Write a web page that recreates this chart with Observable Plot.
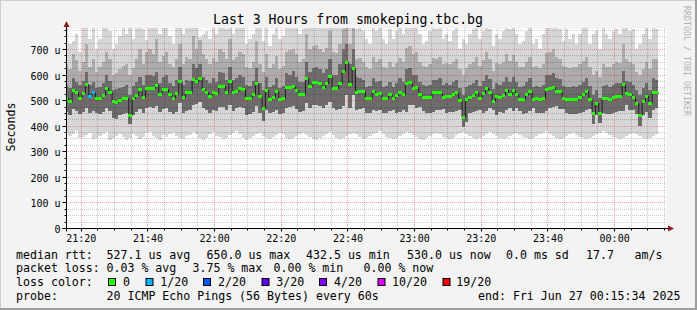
<!DOCTYPE html>
<html><head><meta charset="utf-8">
<script src="https://cdn.jsdelivr.net/npm/d3@7"></script>
<script src="https://cdn.jsdelivr.net/npm/@observablehq/plot@0.6"></script>
<style>
html,body{margin:0;padding:0;background:#f3f3f3;}
#chart{width:697px;height:310px;overflow:hidden;}
svg{display:block;}
</style></head><body><div id="chart"></div>
<script>
// ---- data (one value per minute, microseconds) ----
const medianRtt = [
510,496,539,531,508,527,562,516,531,508,
508,520,547,531,496,492,500,508,508,441,
508,520,543,512,547,547,547,559,523,543,
543,523,508,527,574,512,531,531,582,574,
586,543,531,516,531,527,555,555,531,574,
531,535,547,543,508,508,523,566,516,469,
539,504,512,535,504,508,551,551,555,539,
523,523,586,555,570,570,566,551,566,594,
547,547,566,613,650,562,627,531,535,535,
508,508,535,523,527,508,508,523,508,520,
531,523,566,570,547,551,523,512,512,512,
531,531,531,512,516,516,523,531,500,432.5,
504,512,520,531,508,527,547,531,496,516,
512,520,539,523,539,523,504,504,523,535,
504,508,504,508,543,547,551,535,535,508,
504,504,504,504,512,523,535,504,449,488,
449,508,508,504,512,516,516,562,527,523,
512,488,441,496,516,488,531,530];
const lossCount = medianRtt.map((_, i) => (i === 7 || i === 8) ? 1 : 0);
const smokeMin = [
372,358,366,381,352,356,364,371,349,353,
359,367,374,346,351,361,369,356,343,351,
366,361,349,354,371,377,359,352,346,363,
356,369,373,361,351,347,359,363,376,369,
352,346,353,367,374,361,356,349,351,363,
371,379,367,353,346,351,359,366,373,361,
351,347,356,363,371,366,353,349,351,361,
367,373,363,356,349,346,353,361,369,376,
363,351,347,353,361,369,373,366,356,349,
351,359,367,373,379,366,356,351,347,353,
361,369,376,371,363,356,349,346,353,361,
369,373,366,357,351,347,353,363,371,376,
367,359,351,347,353,361,369,375,367,359,
351,347,353,361,369,373,365,357,351,347,
353,361,367,373,379,369,361,353,347,351,
359,367,373,365,357,351,347,353,361,369,
373,381,373,365,357,351,347,353,361,369,
373,367,359,351,347,353,361,366];
const smokeLowQ = [
452,440,465,458,446,455,470,448,458,450,
446,452,468,458,432,428,440,445,450,405,
440,452,466,448,470,472,468,478,455,465,
468,455,446,452,490,450,458,462,480,486,
492,470,460,450,462,458,472,475,462,480,
458,468,472,470,442,446,455,478,450,420,
462,448,452,462,446,448,470,472,476,466,
455,458,488,470,480,482,476,468,480,492,
470,462,465,478,520,470,520,462,466,468,
448,450,462,456,460,448,450,456,462,448,
452,460,455,480,482,468,472,456,450,448,
452,462,462,464,450,454,454,458,462,395,
415,448,452,458,460,448,458,470,462,440,
455,450,460,470,456,470,456,446,448,456,
470,448,450,448,456,470,472,478,466,466,
448,446,446,446,450,452,460,466,405,440,
410,450,446,446,448,452,456,456,480,462,
460,446,400,440,452,430,462,470];
const smokeDarkTop = [
560,548,585,570,560,575,610,560,572,548,
552,566,600,575,540,545,548,552,560,520,
556,572,590,560,600,598,596,610,568,590,
598,566,556,580,630,560,580,575,640,625,
640,590,578,565,585,572,610,605,580,630,
578,585,598,590,560,556,574,625,565,540,
590,552,560,585,548,556,605,600,612,592,
572,570,650,610,625,628,620,605,622,660,
598,600,640,700,720,640,700,590,585,580,
552,556,585,570,575,552,556,570,552,568,
585,570,620,625,598,600,572,560,556,560,
580,578,585,560,565,560,572,580,548,520,
552,560,565,580,556,575,600,582,545,565,
558,570,590,572,590,570,552,555,572,588,
552,556,552,560,598,600,605,585,582,556,
552,550,556,552,560,572,585,556,520,540,
510,556,560,552,560,565,565,615,575,572,
560,540,520,548,565,540,585,580];
const smokeHighQ = [
640,620,680,655,612,650,720,630,660,610,
628,650,690,660,600,608,620,635,640,600,
625,660,700,640,690,700,680,740,650,672,
690,640,628,660,720,640,670,660,750,700,
735,680,662,640,665,650,700,690,660,740,
655,668,690,680,630,625,650,730,640,610,
680,625,640,672,620,632,690,695,700,680,
650,660,760,700,712,715,700,690,705,770,
690,685,720,780,790,720,790,660,665,650,
630,620,670,650,660,630,625,650,630,645,
665,650,705,712,680,690,650,635,630,640,
665,660,670,640,645,640,650,662,620,600,
625,640,650,668,632,655,690,660,615,645,
640,650,680,652,675,650,630,628,650,670,
628,632,625,640,685,690,700,668,660,632,
630,625,630,628,640,652,670,630,600,612,
590,640,630,628,640,648,645,720,660,650,
642,610,600,620,650,620,662,660];
const smokeMax = [
790,720,730,760,690,790,800,740,800,700,
740,800,800,770,700,720,750,800,760,800,
740,800,800,780,735,800,800,800,760,790,
800,750,720,800,800,760,800,790,800,800,
745,760,770,740,790,760,800,800,780,800,
760,790,800,800,720,740,760,800,790,730,
800,710,760,800,740,750,800,800,800,790,
760,780,800,800,800,800,800,790,800,800,
800,800,800,800,800,800,800,780,790,770,
740,720,800,770,790,740,720,780,740,770,
800,760,800,800,790,800,760,720,730,770,
800,780,800,740,760,730,770,800,700,740,
720,760,780,800,740,770,800,780,710,760,
740,770,800,780,800,760,720,730,770,800,
720,740,700,760,800,800,800,790,780,730,
780,740,760,720,760,790,800,720,760,770,
700,800,760,740,770,780,760,800,790,770,
780,700,720,760,800,740,790,780];
const yTickValues = [0,100,200,300,400,500,600,700];
const yTickLabels = ["0","100 u","200 u","300 u","400 u","500 u","600 u","700 u"];
const xTickLabels = ["21:20","21:40","22:00","22:20","22:40","23:00","23:20","23:40","00:00"];
const lossNames  = ["0","1/20","2/20","3/20","4/20","10/20","19/20"];
const lossColors = ["#26ff00","#00b8ff","#0059ff","#5e00ff","#7e00ff","#dd00ff","#ff0000"];
const statLine1 = ["median rtt:","527.1 us avg","650.0 us max","432.5 us min","530.0 us now","0.0 ms sd","17.7","am/s"];
const statLine2 = ["packet loss:","0.03 % avg","3.75 % max","0.00 % min","0.00 % now"];
const probeLine = ["probe:","20 ICMP Echo Pings (56 Bytes) every 60s","end: Fri Jun 27 00:15:34 2025"];
const titleText = "Last 3 Hours from smokeping.tbc.bg";

// ---- build ----
const tStart = new Date(Date.UTC(2025,5,26,21,15,34));
const tEnd   = new Date(Date.UTC(2025,5,27,0,15,34));
const firstEnd = Date.UTC(2025,5,26,21,16,15);
const rows = medianRtt.map((m,i)=>({
  t0: new Date(firstEnd + (i-1)*60000), t1: new Date(firstEnd + i*60000),
  med: m, lo: smokeMin[i], q1: smokeLowQ[i], dk: smokeDarkTop[i], q3: smokeHighQ[i], hi: smokeMax[i],
  col: lossColors[lossCount[i]]
}));
const stepPts = rows.map(r=>({t:r.t0, v:r.med})).concat([{t: rows[rows.length-1].t1, v: rows[rows.length-1].med}]);
const xTickTimes = xTickLabels.map(s=>{const [h,m]=s.split(":").map(Number); return new Date(Date.UTC(2025,5,h<12?27:26,h,m));});
const minorX = d3.utcMinute.every(5).range(tStart, tEnd).filter(d=>d.getUTCMinutes()%20!==0);
const minorY = d3.range(25, 782, 25).filter(v=>v%100!==0);

const plot = Plot.plot({
  width: 697, height: 310,
  marginTop: 28, marginBottom: 82, marginLeft: 66, marginRight: 31,
  style: {background: "#f3f3f3", fontFamily: "DejaVu Sans Mono", overflow: "visible"},
  x: {type: "utc", domain: [tStart, tEnd], axis: null},
  y: {domain: [0, 782], axis: null},
  color: {type: "identity"},
  marks: [
    Plot.frame({fill: "white", stroke: "none"}),
    Plot.rect(rows, {x1:"t0", x2:"t1", y1:"lo", y2:"hi", fill:"#d6d6d6", clip:true, shapeRendering:"crispEdges"}),
    Plot.rect(rows, {x1:"t0", x2:"t1", y1:"q1", y2:"q3", fill:"#acacac", clip:true, shapeRendering:"crispEdges"}),
    Plot.rect(rows, {x1:"t0", x2:"t1", y1:"q1", y2:"dk", fill:"#6c6c6c", clip:true, shapeRendering:"crispEdges"}),
    Plot.ruleY(minorY, {stroke:"#000", strokeOpacity:0.2, strokeDasharray:"1,1", shapeRendering:"crispEdges"}),
    Plot.ruleX(minorX, {stroke:"#000", strokeOpacity:0.2, strokeDasharray:"1,1", shapeRendering:"crispEdges"}),
    Plot.ruleY(yTickValues.slice(1), {stroke:"#ff0000", strokeOpacity:0.35, strokeDasharray:"1,1", shapeRendering:"crispEdges"}),
    Plot.ruleX(xTickTimes, {stroke:"#ff0000", strokeOpacity:0.35, strokeDasharray:"1,1", shapeRendering:"crispEdges"}),
    Plot.line(stepPts, {x:"t", y:"v", curve:"step-after", stroke:"#1e1e1e", strokeWidth:1, clip:true}),
    Plot.ruleY(rows, {y:"med", x1:"t0", x2:"t1", stroke:"col", strokeWidth:3, clip:true, shapeRendering:"crispEdges"}),
    Plot.text(yTickValues, {frameAnchor:"left", y:d=>d, text:(d,i)=>yTickLabels[i], textAnchor:"end", dx:-6, dy:1.3, fontSize:10, fill:"#000"}),
    Plot.text(xTickTimes, {frameAnchor:"bottom", x:d=>d, text:(d,i)=>xTickLabels[i], lineAnchor:"top", dy:6, fontSize:10, fill:"#000"})
  ]
});
document.getElementById("chart").appendChild(plot);

const sx = plot.scale("x"), sy = plot.scale("y");
const svg = d3.select(plot);
const g = svg.append("g").attr("font-family","DejaVu Sans Mono").attr("text-anchor","start");
const X0 = sx.apply(tStart), X1 = sx.apply(tEnd), Y0 = sy.apply(0), YT = sy.apply(782);
const ax = Math.round(X0)+0.5, ay = Math.round(Y0)+0.5;
// axes
g.append("line").attr("x1",ax-4).attr("x2",X1+2).attr("y1",ay).attr("y2",ay).attr("stroke","#000");
g.append("line").attr("x1",ax).attr("x2",ax).attr("y1",ay+3).attr("y2",YT-2).attr("stroke","#000");
yTickValues.forEach(v=>{const y=Math.round(sy.apply(v))+0.5; g.append("line").attr("x1",ax-4).attr("x2",ax).attr("y1",y).attr("y2",y).attr("stroke","#000");});
minorY.forEach(v=>{const y=Math.round(sy.apply(v))+0.5; g.append("line").attr("x1",ax-2).attr("x2",ax).attr("y1",y).attr("y2",y).attr("stroke","#000");});
xTickTimes.forEach(t=>{const x=Math.round(sx.apply(t))+0.5; g.append("line").attr("x1",x).attr("x2",x).attr("y1",ay).attr("y2",ay+3).attr("stroke","#000");});
minorX.forEach(t=>{const x=Math.round(sx.apply(t))+0.5; g.append("line").attr("x1",x).attr("x2",x).attr("y1",ay).attr("y2",ay+2).attr("stroke","#000");});
// arrows
g.append("polygon").attr("points",`${ax},${YT-7} ${ax-3},${YT-1} ${ax+3},${YT-1}`).attr("fill","#8c1c1c");
g.append("polygon").attr("points",`${X1+8},${ay} ${X1+2},${ay-3} ${X1+2},${ay+3}`).attr("fill","#8c1c1c");
// title, y label, watermark
g.append("text").attr("x",348).attr("y",24).attr("text-anchor","middle").attr("font-size",13.2).attr("fill","#000").text(titleText);
g.append("text").attr("transform","translate(14.5,127) rotate(-90)").attr("text-anchor","middle").attr("font-size",11.6).attr("fill","#000").text("Seconds");
g.append("text").attr("transform","translate(683.5,6) rotate(90)").attr("text-anchor","start").attr("font-size",8.3).attr("fill","#b2b2b2").text("RRDTOOL / TOBI OETIKER");
// legend
const fs = 11.6;
const put = (x,y,s)=>g.append("text").attr("x",x).attr("y",y).attr("text-anchor","start").attr("font-size",fs).attr("fill","#000").attr("xml:space","preserve").text(s);
[16,106.5,206.5,306,407,506,586,634.5].forEach((x,i)=>put(x,258.5,statLine1[i]));
[16,106.5,192.5,273.5,363.5].forEach((x,i)=>put(x,272.2,statLine2[i]));
put(16,285.9,"loss color:");
const boxX=[108.5,146,203.5,262,319.5,378,443], labX=[123,160.3,218,276.3,334,392,456.3];
lossNames.forEach((n,i)=>{
  g.append("rect").attr("x",boxX[i]).attr("y",278.5).attr("width",7).attr("height",7).attr("fill",lossColors[i]).attr("stroke","#000");
  put(labX[i],285.9,n);
});
[16,106.5,478].forEach((x,i)=>put(x,299.6,probeLine[i]));
// border
g.append("path").attr("d","M0,0H697V1H1V310H0Z").attr("fill","#cfcfcf");
g.append("path").attr("d","M697,0V310H0V308H695V0Z").attr("fill","#9e9e9e");
</script></body></html>
